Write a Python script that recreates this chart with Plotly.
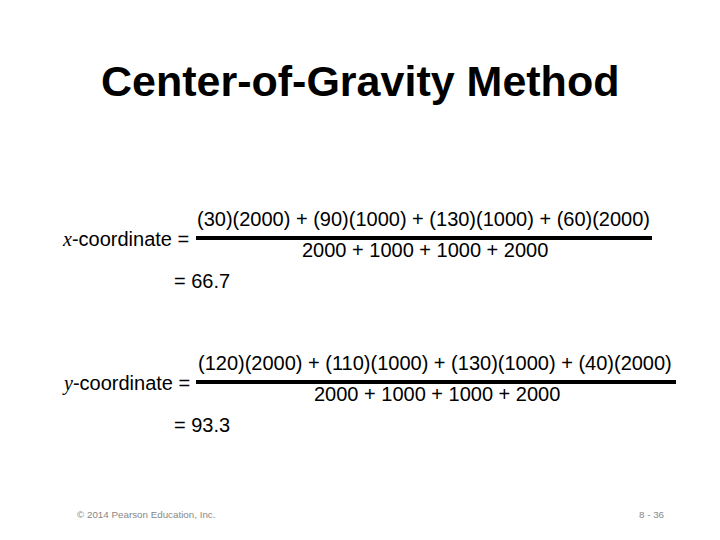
import plotly.graph_objects as go

x_coords = [30, 90, 130, 60]
y_coords = [120, 110, 130, 40]
weights = [2000, 1000, 1000, 2000]

def num(c):
    return " + ".join(f"({a})({w})" for a, w in zip(c, weights))
den = " + ".join(str(w) for w in weights)
cx = sum(a * w for a, w in zip(x_coords, weights)) / sum(weights)
cy = sum(a * w for a, w in zip(y_coords, weights)) / sum(weights)

F = "Liberation Sans, Arial, sans-serif"
OX, OY = -8, -7
fig = go.Figure()
fig.update_layout(width=720, height=540, margin=dict(l=0, r=0, t=0, b=0),
                  plot_bgcolor="white", paper_bgcolor="white", showlegend=False,
                  xaxis=dict(range=[0, 720], visible=False, fixedrange=True),
                  yaxis=dict(range=[540, 0], visible=False, fixedrange=True))

def txt(x, y, s, size=20, anchor="left", color="black"):
    fig.add_annotation(x=x + OX, y=y + OY, text=s, showarrow=False, xanchor=anchor, yanchor="middle",
                       font=dict(family=F, size=size, color=color))

txt(360, 80, "<b>Center-of-Gravity Method</b>", 43, "center")
ital = "<span style='font-family:Liberation Serif'><i>%s</i></span>-coordinate ="
for lab, c, val, yl, x0, x1 in [("x", x_coords, cx, 238, 196, 652), ("y", y_coords, cy, 382, 196, 676)]:
    txt(60, yl, ital % lab, 20)
    txt((x0 + x1) / 2 - 1, yl - 20, num(c), 20, "center")
    txt((x0 + x1) / 2 + 1, yl + 11, den, 20, "center")
    fig.add_shape(type="line", x0=x0 + OX, x1=x1 + OX, y0=yl - 1 + OY, y1=yl - 1 + OY,
                  line=dict(color="black", width=4))
    txt(172, yl + 42, f"= {val:.1f}", 20)

txt(75, 513, "© 2014 Pearson Education, Inc.", 9.8, "left", "#888")
txt(667, 513, "8 - 36", 9.8, "right", "#888")
fig.write_html("out.html")
